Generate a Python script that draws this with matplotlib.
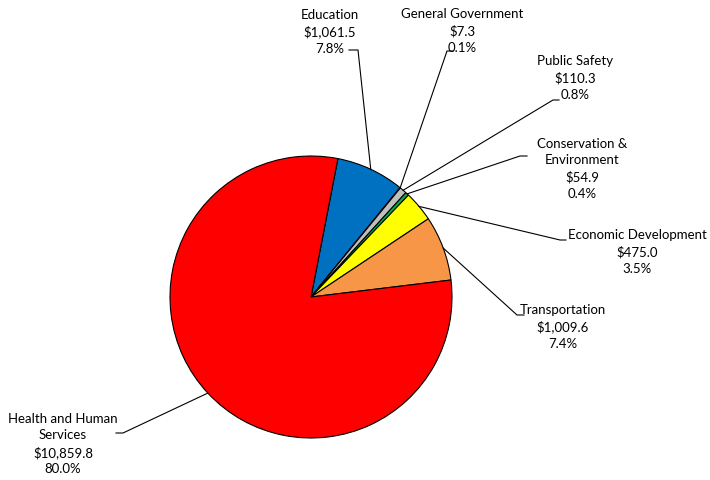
import numpy as np
import matplotlib.pyplot as plt

categories = ["Education", "General Government", "Public Safety",
              "Conservation &\nEnvironment", "Economic Development",
              "Transportation", "Health and Human\nServices"]
values = [1061.5, 7.3, 110.3, 54.9, 475.0, 1009.6, 10859.8]
colors = ["#0070C0", "#FFFFFF", "#BFBFBF", "#00B050", "#FFFF00", "#F79646", "#FF0000"]

# label text centres and leader elbows (pixel coords)
label_pos = [(330, 32), (462, 31), (575, 78), (582, 169), (637, 252), (563, 327), (63, 444)]
elbows = [((358, 50), (349, 50)), ((447, 51), (453, 51)), ((553, 100), (559, 100)),
          ((520, 156), (527, 156)), ((560, 240), (566, 240)), ((517, 315), (524, 315)),
          ((123, 433), (116, 433))]

total = sum(values)
cx, cy, r = 311, 297, 141

fig = plt.figure(figsize=(7.1, 4.8), dpi=100)
ax = fig.add_axes([0, 0, 1, 1])

# y axis inverted -> counterclock=True draws clockwise on screen
wedges, _ = ax.pie(values, colors=colors, center=(cx, cy), radius=r,
                   startangle=-79, counterclock=True,
                   wedgeprops=dict(edgecolor="black", linewidth=0.8))
ax.set_xlim(0, 710)
ax.set_ylim(480, 0)
ax.set_aspect("equal")
ax.axis("off")

for w, cat, v, (tx, ty), (e1, e2) in zip(wedges, categories, values, label_pos, elbows):
    mid = np.deg2rad((w.theta1 + w.theta2) / 2)
    sx = cx + r * np.cos(mid)
    sy = cy + r * np.sin(mid)
    ax.plot([sx, e1[0], e2[0]], [sy, e1[1], e2[1]], color="black", lw=0.8)
    txt = f"{cat}\n${v:,.1f}\n{v / total * 100:.1f}%"
    ax.text(tx, ty, txt, ha="center", va="center", fontsize=9.5,
            family="Lato", linespacing=1.45)

fig.savefig("out.png", dpi=100)
